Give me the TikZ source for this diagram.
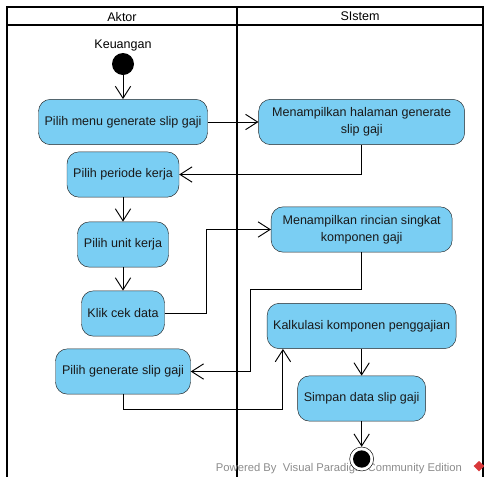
\documentclass[tikz,border=0pt]{standalone}
\usepackage{fontspec}
\setmainfont{Liberation Sans}
\usepackage{xcolor}
\usepackage{tikz}
\usetikzlibrary{shapes.geometric, arrows.meta, positioning}
\definecolor{actblue}{HTML}{7ACEF3}
\definecolor{vpgrey}{HTML}{8C8C8C}
\definecolor{vpred}{HTML}{D9383A}
\tikzset{
    activity/.style = {rectangle, rounded corners=0.36cm, minimum height=1.36cm, text centered, align=center, draw=black!85, fill=actblue, text=black!90, font=\fontsize{10.7}{14.5}\selectfont},
    startdot/.style = {circle, fill=black, minimum size=0.66cm, inner sep=0pt},
    enddot/.style = {circle, draw=black, fill=white, minimum size=0.72cm, inner sep=0pt, path picture={\fill[black] (path picture bounding box.center) circle (0.26cm);}},
    lanetext/.style = {font=\fontsize{10.7}{13}\selectfont},
    lane/.style = {line width=2pt},
    arrow/.style = {line width=0.8pt, -{Straight Barb[length=3.6mm, width=4.6mm]}}
}

\begin{document}
\begin{tikzpicture}[node distance=1.74cm]
\useasboundingbox (0,0) rectangle (14.52,-14.28);

% swimlanes
\draw [lane] (0.21,-14.6) -- (0.21,-0.21) -- (14.49,-0.21) -- (14.49,-14.6);
\draw [lane] (0.21,-0.75) -- (14.49,-0.75);
\draw [lane] (7.11,-0.21) -- (7.11,-14.6);
\node (aktor) [lanetext] at (3.66,-0.5) {Aktor};
\node (sistem) [lanetext] at (10.8,-0.5) {SIstem};

% watermark
\node (watermark) [text=vpgrey, font=\fontsize{9.6}{11}\selectfont] at (10.17,-14.07) {Powered By\ \ Visual Paradigm Community Edition};
\fill [vpred] (14.37,-13.83) -- (14.53,-13.98) -- (14.37,-14.14) -- (14.21,-13.98) -- cycle;

% Aktor
\node (start) [startdot] at (3.69,-1.92) {};
\node (keuangan) [lanetext, above of=start, node distance=0.57cm] {Keuangan};
\node (menu) [activity, below of=start, minimum width=5.07cm] {Pilih menu generate slip gaji};
\node (periode) [activity, below of=menu, node distance=1.575cm, minimum width=3.36cm] {Pilih periode kerja};
\node (unit) [activity, below of=periode, node distance=2.1cm, minimum width=2.73cm] {Pilih unit kerja};
\node (cekdata) [activity, below of=unit, node distance=2.07cm, minimum width=2.49cm] {Klik cek data};
\node (pilihslip) [activity, below of=cekdata, minimum width=4.05cm] {Pilih generate slip gaji};

% Sistem
\node (halaman) [activity, right of=menu, node distance=7.16cm, minimum width=6.18cm] {Menampilkan halaman generate\\slip gaji};
\node (rincian) [activity, below of=halaman, node distance=3.225cm, minimum width=5.43cm] {Menampilkan rincian singkat\\komponen gaji};
\node (kalkulasi) [activity, below of=rincian, node distance=2.895cm, minimum width=5.67cm] {Kalkulasi komponen penggajian};
\node (simpan) [activity, below of=kalkulasi, node distance=2.175cm, minimum width=3.84cm] {Simpan data slip gaji};
\node (selesai) [enddot, below of=simpan, node distance=1.815cm] {};

\draw [arrow] (start) -- (menu);
\draw [arrow] (menu) -- (halaman);
\draw [arrow] (halaman.south) |- (periode.east);
\draw [arrow] (periode) -- (unit);
\draw [arrow] (unit) -- (cekdata);
\draw [arrow] (cekdata.east) -- ++(1.26,0) |- (rincian.west);
\draw [arrow] (rincian.south) -- ++(0,-1.11) -- ++(-3.33,0) |- (pilihslip.east);
\draw [arrow] (pilihslip.south) -- ++(0,-0.45) -| ([xshift=0.48cm]kalkulasi.south west);
\draw [arrow] (kalkulasi) -- (simpan);
\draw [arrow] (simpan) -- (selesai);
\end{tikzpicture}
\end{document}
